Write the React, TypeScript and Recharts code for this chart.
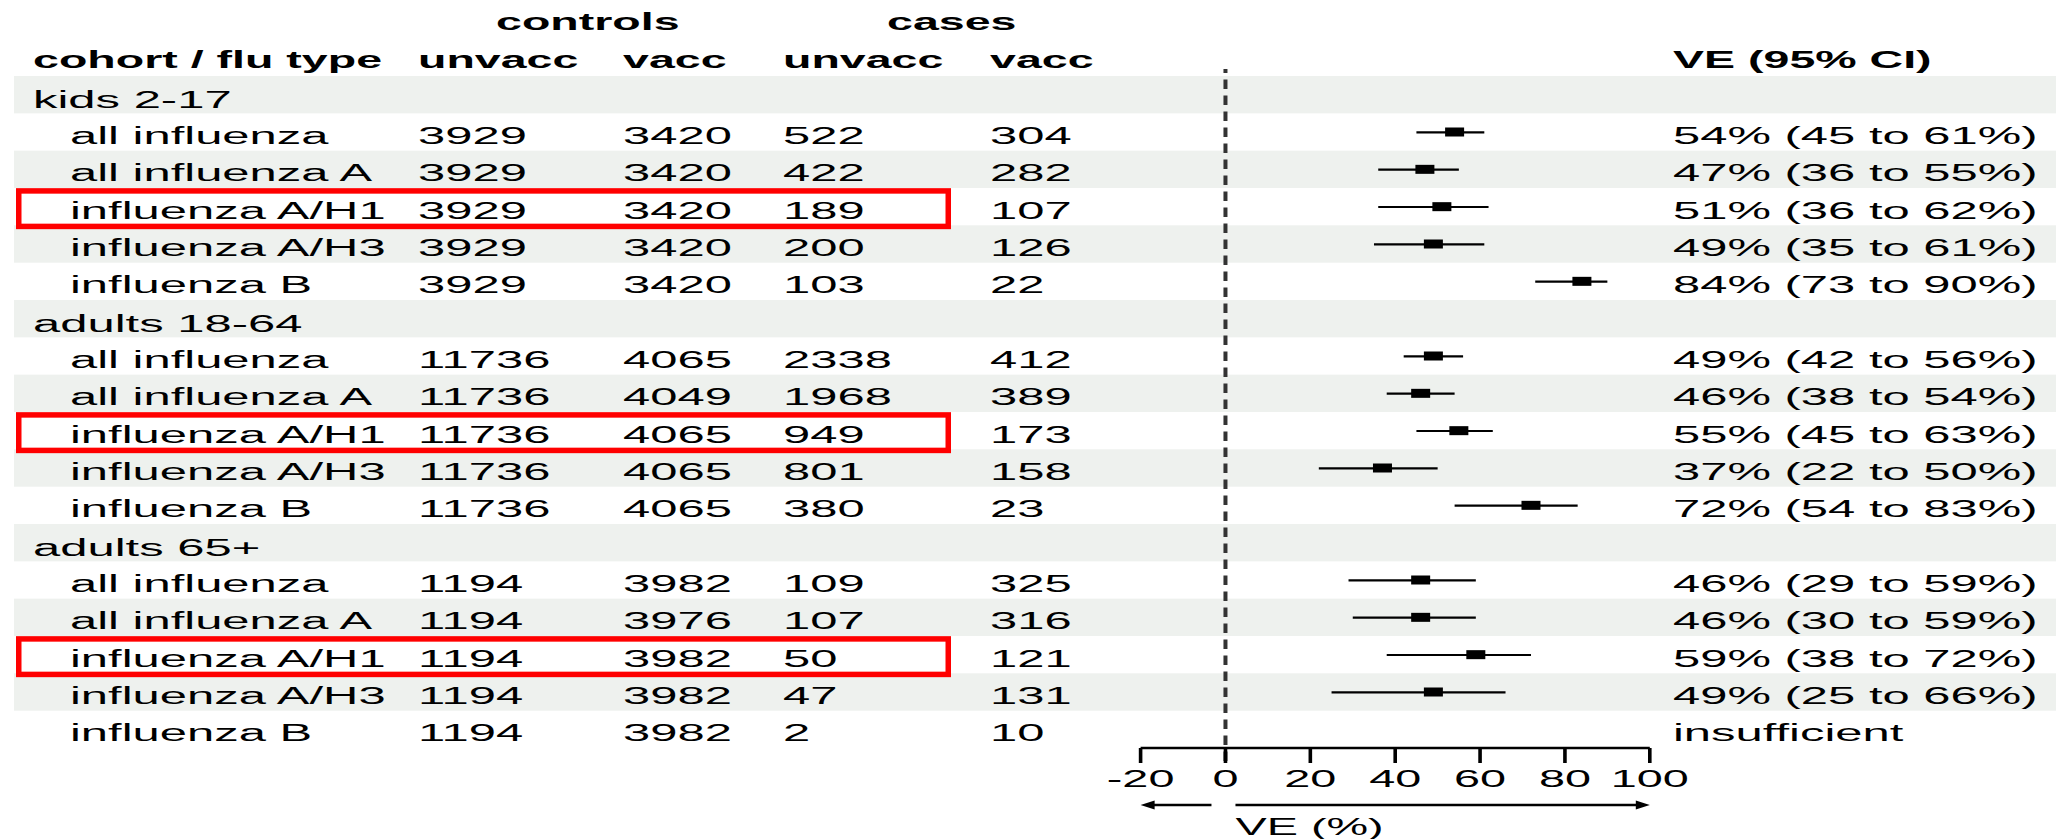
import React from 'react';
import {
  ComposedChart,
  XAxis,
  YAxis,
  Bar,
  Line,
  ReferenceLine,
  ReferenceArea,
  Customized,
} from 'recharts';

// ---- table content, top to bottom ----
const rowLabels = [
  'kids 2-17',
  'all influenza',
  'all influenza A',
  'influenza A/H1',
  'influenza A/H3',
  'influenza B',
  'adults 18-64',
  'all influenza',
  'all influenza A',
  'influenza A/H1',
  'influenza A/H3',
  'influenza B',
  'adults 65+',
  'all influenza',
  'all influenza A',
  'influenza A/H1',
  'influenza A/H3',
  'influenza B',
];
const groupHeaderRows = [0, 6, 12];
const highlightedRows = [3, 9, 15];

const controlsUnvacc = [null, 3929, 3929, 3929, 3929, 3929, null, 11736, 11736, 11736, 11736, 11736, null, 1194, 1194, 1194, 1194, 1194];
const controlsVacc = [null, 3420, 3420, 3420, 3420, 3420, null, 4065, 4049, 4065, 4065, 4065, null, 3982, 3976, 3982, 3982, 3982];
const casesUnvacc = [null, 522, 422, 189, 200, 103, null, 2338, 1968, 949, 801, 380, null, 109, 107, 50, 47, 2];
const casesVacc = [null, 304, 282, 107, 126, 22, null, 412, 389, 173, 158, 23, null, 325, 316, 121, 131, 10];

// vaccine effectiveness (%) with 95% CI
const vePoint = [null, 54, 47, 51, 49, 84, null, 49, 46, 55, 37, 72, null, 46, 46, 59, 49, null];
const veLower = [null, 45, 36, 36, 35, 73, null, 42, 38, 45, 22, 54, null, 29, 30, 38, 25, null];
const veUpper = [null, 61, 55, 62, 61, 90, null, 56, 54, 63, 50, 83, null, 59, 59, 72, 66, null];

const spanHeaders = ['controls', 'cases'];
const columnHeaders = ['cohort / flu type', 'unvacc', 'vacc', 'unvacc', 'vacc'];
const veHeader = 'VE (95% CI)';
const noEstimateText = 'insufficient';
const axisTitle = 'VE (%)';
const veTicks = [-20, 0, 20, 40, 60, 80, 100];
const veDomain: [number, number] = [-20, 100];

// ---- layout & style ----
const W = 2056;
const H = 839;
const FONT = '"Liberation Sans", Arial, Helvetica, sans-serif';
const FS = 24;
const SX_REG = 2.04;
const SX_BOLD = 1.9;
const SX_AXIS = 1.95;
const STRIPE = '#eef1ee';
const groupX = 33;
const labelX = 70;
const numberColX = [418, 623, 783, 990];
const spanHeaderX = [496, 887];
const veTextX = 1673;

type Row = {
  id: string;
  label: string;
  group: boolean;
  highlight: boolean;
  shaded: boolean;
  counts: (number | null)[];
  ve: number | null;
  ci: [number, number] | null;
};

const rows: Row[] = rowLabels.map((label, i) => ({
  id: `row${i}`,
  label,
  group: groupHeaderRows.includes(i),
  highlight: highlightedRows.includes(i),
  shaded: i % 2 === 0,
  counts: [controlsUnvacc[i], controlsVacc[i], casesUnvacc[i], casesVacc[i]],
  ve: vePoint[i],
  ci: veLower[i] == null || veUpper[i] == null ? null : [veLower[i] as number, veUpper[i] as number],
}));

function WideText(props: {
  x: number;
  y: number;
  bold?: boolean;
  sx?: number;
  anchor?: 'start' | 'middle' | 'end';
  children: React.ReactNode;
}) {
  const { x, y, bold, sx, anchor, children } = props;
  const s = sx ?? (bold ? SX_BOLD : SX_REG);
  return (
    <text
      transform={`translate(${x},${y}) scale(${s},1)`}
      x={0}
      y={0}
      fontFamily={FONT}
      fontSize={bold ? 24.5 : FS}
      fontWeight={bold ? 700 : 400}
      fill="#000"
      textAnchor={anchor ?? 'start'}
    >
      {children}
    </text>
  );
}

// one table row, placed on the category band centre given by the y axis
function TableRow(props: any) {
  const { y, payload } = props;
  const r = rows.find((row) => row.id === payload.value);
  if (!r) return <g />;
  const base = y + (r.group ? 13 : 12);
  return (
    <g>
      {r.highlight && (
        <rect x={18.75} y={y - 15.75} width={929.5} height={35.5} fill="none" stroke="#ff0000" strokeWidth={5.5} />
      )}
      <WideText x={r.group ? groupX : labelX} y={base}>
        {r.label}
      </WideText>
      {!r.group &&
        r.counts.map((c, k) => (
          <WideText key={k} x={numberColX[k]} y={base}>
            {c}
          </WideText>
        ))}
      {!r.group && (
        <WideText x={veTextX} y={base}>
          {r.ve == null || r.ci == null ? noEstimateText : `${r.ve}% (${r.ci[0]} to ${r.ci[1]}%)`}
        </WideText>
      )}
    </g>
  );
}

function HeaderText() {
  return (
    <g>
      {spanHeaders.map((t, k) => (
        <WideText key={t} x={spanHeaderX[k]} y={30} bold>
          {t}
        </WideText>
      ))}
      <WideText x={groupX} y={68} bold>
        {columnHeaders[0]}
      </WideText>
      {columnHeaders.slice(1).map((t, k) => (
        <WideText key={k} x={numberColX[k]} y={68} bold>
          {t}
        </WideText>
      ))}
      <WideText x={veTextX} y={68} bold>
        {veHeader}
      </WideText>
    </g>
  );
}

function StripeShape(props: any) {
  return <rect x={14} y={props.y} width={W - 14} height={props.height} fill={STRIPE} />;
}

function ZeroLine(props: any) {
  const { x1, y1, x2, y2 } = props;
  return (
    <line
      x1={x1}
      x2={x2}
      y1={y1 + 13}
      y2={y2 - 7}
      stroke="#333333"
      strokeWidth={4}
      strokeDasharray="9.5 6.5"
    />
  );
}

function CiShape(props: any) {
  const { x, y, width, height, payload } = props;
  if (!payload || payload.ci == null || x == null || width == null) return <g />;
  const cy = y + height / 2;
  return <line x1={x} x2={x + width} y1={cy} y2={cy} stroke="#000" strokeWidth={2.2} />;
}

function SquareDot(props: any) {
  const { cx, cy, payload, index } = props;
  if (!payload || payload.ve == null || cx == null || cy == null) return <g key={`d${index}`} />;
  return <rect key={`d${index}`} x={cx - 9.5} y={cy - 4.5} width={19} height={9} fill="#000" />;
}

function VeTick(props: any) {
  const { x, y, payload } = props;
  return (
    <WideText x={x} y={y + 22} sx={SX_AXIS} anchor="middle">
      {payload.value}
    </WideText>
  );
}

function AxisCaption(props: any) {
  const vb = props.viewBox || {};
  const { x, y, width } = vb;
  if (x == null) return null;
  const right = x + width;
  const zeroX = x + (width * (0 - veDomain[0])) / (veDomain[1] - veDomain[0]);
  const ya = y + 57;
  return (
    <g>
      <line x1={zeroX - 14} x2={x + 10} y1={ya} y2={ya} stroke="#000" strokeWidth={2.3} />
      <polygon points={`${x},${ya} ${x + 14},${ya - 4.5} ${x + 14},${ya + 4.5}`} fill="#000" />
      <line x1={zeroX + 10} x2={right - 10} y1={ya} y2={ya} stroke="#000" strokeWidth={2.3} />
      <polygon points={`${right},${ya} ${right - 14},${ya - 4.5} ${right - 14},${ya + 4.5}`} fill="#000" />
      <WideText x={zeroX + 10} y={y + 87} sx={SX_AXIS}>
        {axisTitle}
      </WideText>
    </g>
  );
}

export default function App() {
  return (
    <div style={{ position: 'absolute', left: 0, top: 0, width: W, height: H, background: '#fff' }}>
      <ComposedChart
        width={W}
        height={H}
        data={rows}
        layout="vertical"
        margin={{ top: 76, right: 406.2, bottom: 31, left: 1139.6 }}
      >
        {rows
          .filter((r) => r.shaded)
          .map((r) => (
            <ReferenceArea key={r.id} y1={r.id} y2={r.id} shape={StripeShape} ifOverflow="visible" />
          ))}
        <ReferenceLine x={0} shape={ZeroLine} ifOverflow="visible" />
        <XAxis
          type="number"
          domain={veDomain}
          ticks={veTicks}
          allowDataOverflow
          height={60}
          tickSize={15}
          tickMargin={2}
          axisLine={{ stroke: '#000', strokeWidth: 2.3 }}
          tickLine={{ stroke: '#000', strokeWidth: 3.6 }}
          tick={VeTick}
          label={(p: any) => <AxisCaption {...p} />}
        />
        <YAxis
          type="category"
          dataKey="id"
          width={1}
          interval={0}
          axisLine={false}
          tickLine={false}
          tick={TableRow}
        />
        <Bar dataKey="ci" shape={CiShape} isAnimationActive={false} barSize={10} />
        <Line
          dataKey="ve"
          stroke="none"
          strokeWidth={0}
          dot={SquareDot}
          activeDot={false}
          isAnimationActive={false}
        />
        <Customized component={HeaderText} />
      </ComposedChart>
    </div>
  );
}
